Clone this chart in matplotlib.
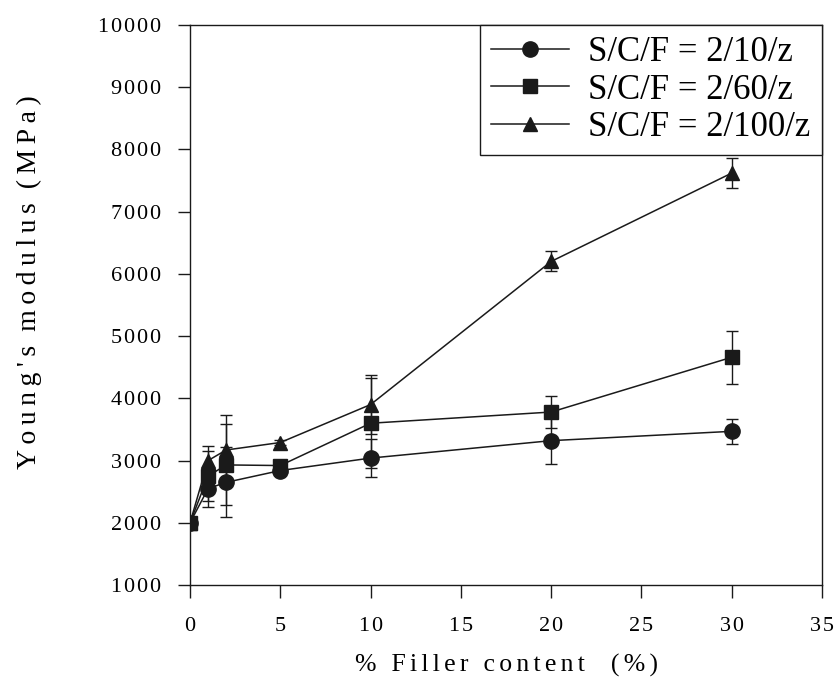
import matplotlib
matplotlib.use("Agg")
import matplotlib.pyplot as plt

filler = [0, 1, 2, 5, 10, 20, 30]

mod_10 = [2000, 2550, 2650, 2840, 3040, 3320, 3470]
err_10 = [0, 300, 560, 40, 300, 380, 200]

mod_60 = [2000, 2750, 2930, 2920, 3600, 3780, 4660]
err_60 = [0, 400, 650, 50, 720, 260, 430]

mod_100 = [2000, 3000, 3170, 3290, 3900, 6200, 7620]
err_100 = [0, 230, 560, 40, 470, 160, 240]

labels = ["S/C/F = 2/10/z", "S/C/F = 2/60/z", "S/C/F = 2/100/z"]
xticks = [0, 5, 10, 15, 20, 25, 30, 35]
yticks = [1000, 2000, 3000, 4000, 5000, 6000, 7000, 8000, 9000, 10000]

serif = ["Liberation Serif", "DejaVu Serif"]
plt.rcParams["font.family"] = serif

HS = "\u200a"  # hair space for letter spacing
TS = "\u2009"  # thin space


def spaced(s, sep):
    return sep.join(list(s))


fig = plt.figure(figsize=(8.36, 6.84), dpi=100)
ax = fig.add_axes([0.2273, 0.1447, 0.7560, 0.8188])

col = "#1a1a1a"
series = [(mod_10, err_10, "o", 11), (mod_60, err_60, "s", 9.5), (mod_100, err_100, "^", 10.5)]
handles = []
for (m, e, mk, ms), lab in zip(series, labels):
    eb = ax.errorbar(filler, m, yerr=e, color=col, marker=mk, markersize=ms,
                     linewidth=1.1, elinewidth=1.0, capsize=4.5, capthick=1.0)
    handles.append(eb[0])

ax.set_xlim(0, 35)
ax.set_ylim(1000, 10000)
ax.set_xticks(xticks)
ax.set_xticklabels([spaced(str(t), HS) for t in xticks])
ax.set_yticks(yticks)
ax.set_yticklabels([spaced(str(t), HS) for t in yticks])
ax.tick_params(direction="out", length=9, width=1.0, color=col, labelsize=16)
ax.tick_params(axis="y", pad=12)
ax.tick_params(axis="x", pad=14)
for s in ax.spines.values():
    s.set_color(col)
    s.set_linewidth(1.0)

ylab = "  ".join([spaced("Young's", TS), spaced("modulus", TS), spaced("(MPa)", TS)])
ax.set_ylabel(ylab, fontsize=20)
ax.yaxis.set_label_coords(-0.234, 0.54)
xlab = spaced("% Filler content", HS + HS) + "    " + spaced("(%)", HS + HS)
ax.set_xlabel(xlab, fontsize=18.5, labelpad=13)

leg = ax.legend(handles, labels, loc="upper right", fontsize=25, frameon=True,
                fancybox=False, edgecolor=col, framealpha=1, handlelength=2.25,
                borderaxespad=0.0, labelspacing=0.12, borderpad=0.33,
                handletextpad=0.55)
leg.get_frame().set_linewidth(1.0)

fig.savefig("out.png", dpi=100)
